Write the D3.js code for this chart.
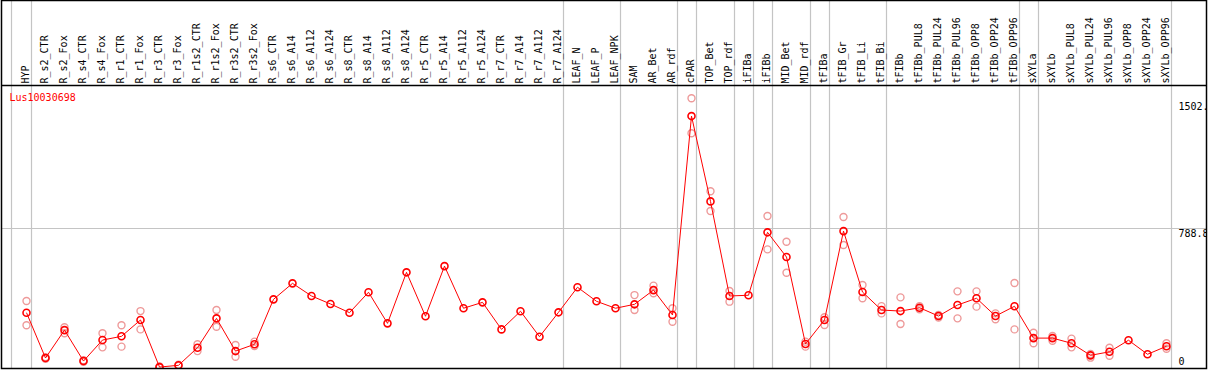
<!DOCTYPE html>
<html>
<head>
<meta charset="utf-8">
<script src="https://cdn.jsdelivr.net/npm/d3@7"></script>
<style>
  html, body { margin: 0; padding: 0; background: #fff; }
  svg { display: block; }
  text { font-family: "DejaVu Sans Mono", "Liberation Mono", monospace; font-size: 10px; }
</style>
</head>
<body>
<div id="chart"></div>
<script>
const geneId = "Lus10030698";

const categories = [
  "HYP",
  "R_s2_CTR", "R_s2_Fox", "R_s4_CTR", "R_s4_Fox", "R_r1_CTR", "R_r1_Fox", "R_r3_CTR", "R_r3_Fox",
  "R_r1s2_CTR", "R_r1s2_Fox", "R_r3s2_CTR", "R_r3s2_Fox",
  "R_s6_CTR", "R_s6_A14", "R_s6_A112", "R_s6_A124", "R_s8_CTR", "R_s8_A14", "R_s8_A112", "R_s8_A124",
  "R_r5_CTR", "R_r5_A14", "R_r5_A112", "R_r5_A124", "R_r7_CTR", "R_r7_A14", "R_r7_A112", "R_r7_A124",
  "LEAF_N", "LEAF_P", "LEAF_NPK",
  "SAM", "AR_Bet", "AR_rdf",
  "cPAR",
  "TOP_Bet", "TOP_rdf",
  "iFIBa",
  "iFIBb",
  "MID_Bet", "MID_rdf",
  "tFIBa",
  "tFIB_Gr", "tFIB_Li", "tFIB_Bi",
  "tFIBb", "tFIBb_PUL8", "tFIBb_PUL24", "tFIBb_PUL96", "tFIBb_OPP8", "tFIBb_OPP24", "tFIBb_OPP96",
  "sXYLa",
  "sXYLb", "sXYLb_PUL8", "sXYLb_PUL24", "sXYLb_PUL96", "sXYLb_OPP8", "sXYLb_OPP24", "sXYLb_OPP96"
];

// number of samples in each group, a grey line closes every group
const groupSizes = [1, 28, 3, 3, 1, 2, 1, 1, 2, 1, 3, 7, 1, 7];

// mean expression per sample
const means = [
  314,
  59, 216, 42, 160, 181, 273, 8, 18,
  117, 282, 98, 136,
  389, 479, 408, 363, 314, 429, 254, 541,
  294, 576, 339, 372, 220, 322, 179, 316,
  457, 378, 339,
  361, 441, 301,
  1420,
  940, 408,
  412,
  766,
  627, 138,
  273,
  773, 430, 329,
  323, 342, 295, 357, 395, 295, 350,
  171,
  171, 142, 74, 94, 159, 80, 125
];

// replicate values per sample (empty = single value)
const replicates = [
  [380, 243],
  [55, 63], [232, 198], [38, 46], [198, 119], [243, 123], [323, 220], [5, 12], [15, 21],
  [136, 98], [329, 235], [132, 66], [151, 126],
  [], [], [], [], [], [], [], [],
  [], [], [], [], [], [], [], [],
  [], [], [],
  [413, 329], [466, 423], [339, 263],
  [1520, 1323],
  [997, 886], [436, 376],
  [],
  [858, 670],
  [713, 539], [151, 123],
  [288, 245],
  [852, 695], [470, 395], [351, 310],
  [400, 250], [351, 333], [301, 287], [434, 282], [434, 348], [310, 277], [481, 220],
  [201, 142],
  [183, 156], [168, 119], [82, 61], [117, 72], [], [], [142, 111]
];

const yTicks = [0, 788.8, 1502];
const yTickLabels = ["0", "788.8", "1502."];

const width = 1209, height = 370;
const headerBottom = 85.5;

const svg = d3.select("#chart").append("svg")
  .attr("width", width)
  .attr("height", height);

const x = d3.scalePoint().domain(categories).range([26.5, 1166.5]);
const y = d3.scaleLinear().domain([0, 1502]).range([368.5, 101.5]);

svg.append("clipPath").attr("id", "plotClip")
  .append("rect").attr("x", 1.5).attr("y", 0.5).attr("width", 1205).attr("height", 368);

const plot = svg.append("g").attr("clip-path", "url(#plotClip)");

// group separators
const groupEnds = [];
let acc = 0;
groupSizes.forEach(n => {
  acc += n;
  groupEnds.push(x(categories[acc - 1]) + 4.5);
});
const vLines = [x(categories[0]) - 15.5, ...groupEnds];

plot.append("g")
  .selectAll("line")
  .data(vLines)
  .join("line")
  .attr("x1", d => Math.round(d) + 0.5)
  .attr("x2", d => Math.round(d) + 0.5)
  .attr("y1", 0)
  .attr("y2", height)
  .attr("stroke", "#c4c4c4")
  .attr("stroke-width", 1.2);

// horizontal gridline
plot.append("line")
  .attr("x1", 0).attr("x2", width)
  .attr("y1", Math.round(y(788.8)) + 0.5).attr("y2", Math.round(y(788.8)) + 0.5)
  .attr("stroke", "#c4c4c4")
  .attr("stroke-width", 1.2);

// category labels
svg.append("g")
  .selectAll("text")
  .data(categories)
  .join("text")
  .attr("transform", d => `translate(${x(d) + 2.5},83.5) rotate(-90)`)
  .attr("fill", "#000")
  .text(d => d);

// frame
svg.append("rect")
  .attr("x", 1.5).attr("y", 0.5).attr("width", 1205).attr("height", 368)
  .attr("fill", "none").attr("stroke", "#000").attr("stroke-width", 1.5);
svg.append("line")
  .attr("x1", 1).attr("x2", 1207)
  .attr("y1", headerBottom).attr("y2", headerBottom)
  .attr("stroke", "#000").attr("stroke-width", 1.5);

// y tick labels, clipped by the right border
plot.append("g")
  .selectAll("text")
  .data(yTicks)
  .join("text")
  .attr("x", 1178.5)
  .attr("y", (d, i) => d === 0 ? y(d) - 3.5 : y(d) + 8.5)
  .attr("fill", "#000")
  .text((d, i) => yTickLabels[i]);

// replicates
const repPts = [];
replicates.forEach((r, i) => r.forEach(v => repPts.push([categories[i], v])));

plot.append("g")
  .selectAll("circle")
  .data(repPts)
  .join("circle")
  .attr("cx", d => x(d[0]))
  .attr("cy", d => y(d[1]))
  .attr("r", 3.5)
  .attr("fill", "none")
  .attr("stroke", "#ee9a9a")
  .attr("stroke-width", 1.4);

// mean line
const line = d3.line()
  .x((d, i) => x(categories[i]))
  .y(d => y(d));

plot.append("path")
  .datum(means)
  .attr("d", line)
  .attr("fill", "none")
  .attr("stroke", "#ff0000")
  .attr("stroke-width", 1);

plot.append("g")
  .selectAll("circle")
  .data(means)
  .join("circle")
  .attr("cx", (d, i) => x(categories[i]))
  .attr("cy", d => y(d))
  .attr("r", 3.5)
  .attr("fill", "none")
  .attr("stroke", "#ff0000")
  .attr("stroke-width", 1.6);

// gene label
svg.append("text")
  .attr("x", 9.5)
  .attr("y", 101)
  .attr("fill", "#ff0000")
  .text(geneId);
</script>
</body>
</html>
